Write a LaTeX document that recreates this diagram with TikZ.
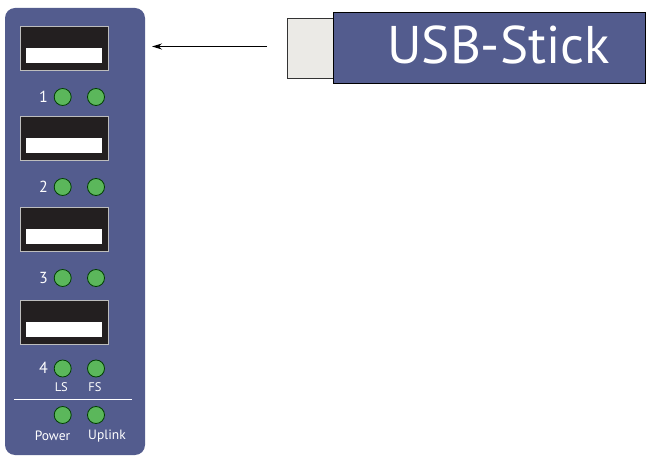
\documentclass[tikz,border=0pt]{standalone}
\usepackage{fontspec}
\setsansfont{PT Sans}
\usepackage{tikz}
\usetikzlibrary{arrows.meta}

\definecolor{panelblue}{HTML}{535C8E}
\definecolor{ledgreen}{HTML}{5BB75B}
\definecolor{portgray}{HTML}{BDBDBD}
\definecolor{plugfill}{HTML}{EBEAE6}
\definecolor{portblack}{HTML}{231F20}

\tikzset{
    port/.style={draw=portgray, fill=portblack, line width=1pt, minimum width=88pt, minimum height=44pt, inner sep=0pt},
    slot/.style={fill=white, minimum width=76pt, minimum height=15pt, inner sep=0pt},
    led/.style={circle, draw=black!75!green, fill=ledgreen, line width=0.8pt, minimum size=17pt, inner sep=0pt},
    num/.style={text=white, font=\sffamily\fontsize{16}{16}\selectfont, inner sep=0pt},
    small/.style={text=white, font=\sffamily\fontsize{12.5}{12.5}\selectfont, inner sep=0pt},
    label/.style={text=white, font=\sffamily\fontsize{13.5}{13.5}\selectfont, inner sep=0pt}
}

\begin{document}
\begin{tikzpicture}[x=1pt,y=-1pt]
    \useasboundingbox (0,0) rectangle (646,457);
    \fill[panelblue, rounded corners=10pt] (5,8) rectangle (145,455); % Hub.

    \node[port] (port1) at (64,49) {};
    \node[slot] (slot1) at (64,55.8) {};
    \node[port] (port2) at (64,139) {};
    \node[slot] (slot2) at (64,145.8) {};
    \node[port] (port3) at (64,230) {};
    \node[slot] (slot3) at (64,236.5) {};
    \node[port] (port4) at (64,322.5) {};
    \node[slot] (slot4) at (64,329.7) {};

    \node[led] (ls1) at (62.7,97) {};
    \node[led] (fs1) at (96,97) {};
    \node[led] (ls2) at (62.7,187) {};
    \node[led] (fs2) at (96,187) {};
    \node[led] (ls3) at (62.7,278) {};
    \node[led] (fs3) at (96,278) {};
    \node[led] (ls4) at (62.7,368.5) {};
    \node[led] (fs4) at (96,368.5) {};
    \node[led] (power) at (62.7,415) {};
    \node[led] (uplink) at (96,415) {};

    \node[num, anchor=east] (num1) at (48,97) {1};
    \node[num, anchor=east] (num2) at (48,187) {2};
    \node[num, anchor=east] (num3) at (48,278) {3};
    \node[num, anchor=east] (num4) at (48,368) {4};
    \node[small] (lslabel) at (61.3,387) {LS};
    \node[small] (fslabel) at (95,387) {FS};
    \node[label] (powerlabel) at (52.5,436) {Power};
    \node[label] (uplinklabel) at (107,436) {Uplink};

    \draw[white, line width=1.5pt] (14,399.5) -- (132,399.5);

    % USB stick.
    \node[draw=black!80, fill=plugfill, line width=1pt, minimum width=45.5pt, minimum height=60pt, inner sep=0pt] (plug) at (310.5,49) {};
    \node[draw=black, fill=panelblue, line width=1.2pt, minimum width=312pt, minimum height=70.5pt, inner sep=0pt, anchor=west] (stick) at (333,48) {};
    \node[text=white, font=\sffamily\fontsize{53}{53}\selectfont, inner sep=0pt, anchor=base] (sticklabel) at (498.5,63.3) {USB-Stick};

    \coordinate (arrowstart) at (267,46.5);
    \coordinate (arrowtip) at (152,46.5);
    \draw[-{Stealth[length=10pt,width=6pt]}, line width=1.2pt] (arrowstart) -- (arrowtip);
\end{tikzpicture}
\end{document}
